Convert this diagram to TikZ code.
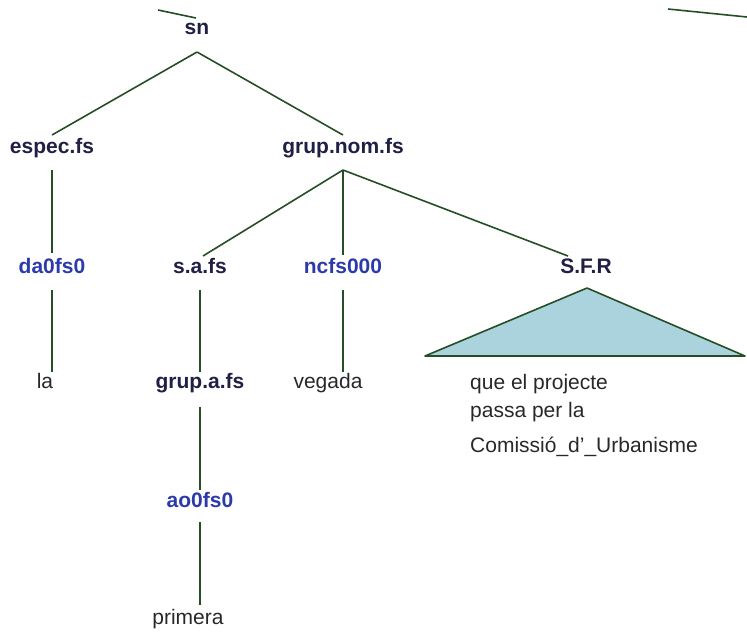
\documentclass[tikz,border=0pt]{standalone}
\usepackage{fontspec}
\setmainfont{Liberation Sans}
\usetikzlibrary{calc}
\definecolor{edgegreen}{RGB}{38,78,38}
\definecolor{labnavy}{RGB}{32,32,70}
\definecolor{tagblue}{RGB}{44,58,170}
\definecolor{leafgray}{RGB}{40,40,40}
\definecolor{trifill}{RGB}{170,211,221}
\begin{document}
\begin{tikzpicture}[x=1pt,y=-1pt,
  every node/.style={inner sep=0pt,anchor=base,font=\fontsize{21}{25}\selectfont},
  cat/.style={text=labnavy,font=\fontsize{21}{25}\selectfont\bfseries},
  tag/.style={text=tagblue,font=\fontsize{21}{25}\selectfont\bfseries},
  leaf/.style={text=leafgray},
  edge/.style={draw=edgegreen,line width=1.6pt}]
\useasboundingbox (0,0) rectangle (747,633);
% nodes
\node[cat] (sn) at (197,34) {sn};
\node[cat] (espec) at (52,153) {espec.fs};
\node[cat] (grupnom) at (343,153) {grup.nom.fs};
\node[tag] (da) at (52,273) {da0fs0};
\node[cat] (sa) at (200,273) {s.a.fs};
\node[tag] (ncfs) at (343,273) {ncfs000};
\node[cat] (sfr) at (586,273) {S.F.R};
\node[leaf] (la) at (45,388) {la};
\node[cat] (grupa) at (200,388) {grup.a.fs};
\node[leaf] (vegada) at (328,388) {vegada};
\node[tag] (ao) at (200,507) {ao0fs0};
\node[leaf] (primera) at (188,624) {primera};
\node[leaf,anchor=base west] (t1) at (470,389) {que el projecte};
\node[leaf,anchor=base west] (t2) at (470,417) {passa per la};
\node[leaf,anchor=base west] (t3) at (470,452) {Comissió\_d'\_Urbanisme};
% fragments of edges from out of frame
\coordinate (offL) at (158,10);
\coordinate (offR) at (668,9);
\coordinate (offRend) at (747,17);
\draw[edge] (offL) -- ($(sn.base)+(-1,-16)$);
\draw[edge] (offR) -- (offRend);
% edges
\draw[edge] ($(sn.base)+(0,18)$) -- ($(espec.base)+(0,-18)$);
\draw[edge] ($(sn.base)+(0,18)$) -- ($(grupnom.base)+(0,-18)$);
\draw[edge] ($(espec.base)+(0,17)$) -- ($(da.base)+(0,-20)$);
\draw[edge] ($(grupnom.base)+(0,17)$) -- ($(sa.base)+(3,-17)$);
\draw[edge] ($(grupnom.base)+(0,17)$) -- ($(ncfs.base)+(0,-18)$);
\draw[edge] ($(grupnom.base)+(0,17)$) -- ($(sfr.base)+(-18,-17)$);
\draw[edge] ($(da.base)+(0,17)$) -- ($(da.base |- la.base)+(0,-16)$);
\draw[edge] ($(sa.base)+(0,17)$) -- ($(grupa.base)+(0,-16)$);
\draw[edge] ($(ncfs.base)+(0,17)$) -- ($(ncfs.base |- vegada.base)+(0,-16)$);
\draw[edge] ($(grupa.base)+(0,19)$) -- ($(ao.base)+(0,-17)$);
\draw[edge] ($(ao.base)+(0,15)$) -- ($(ao.base |- primera.base)+(0,-19)$);
% triangle
\draw[edge,fill=trifill,line join=round] ($(sfr.base)+(1,15)$) -- (425,356) -- (745,356) -- cycle;
\end{tikzpicture}
\end{document}
